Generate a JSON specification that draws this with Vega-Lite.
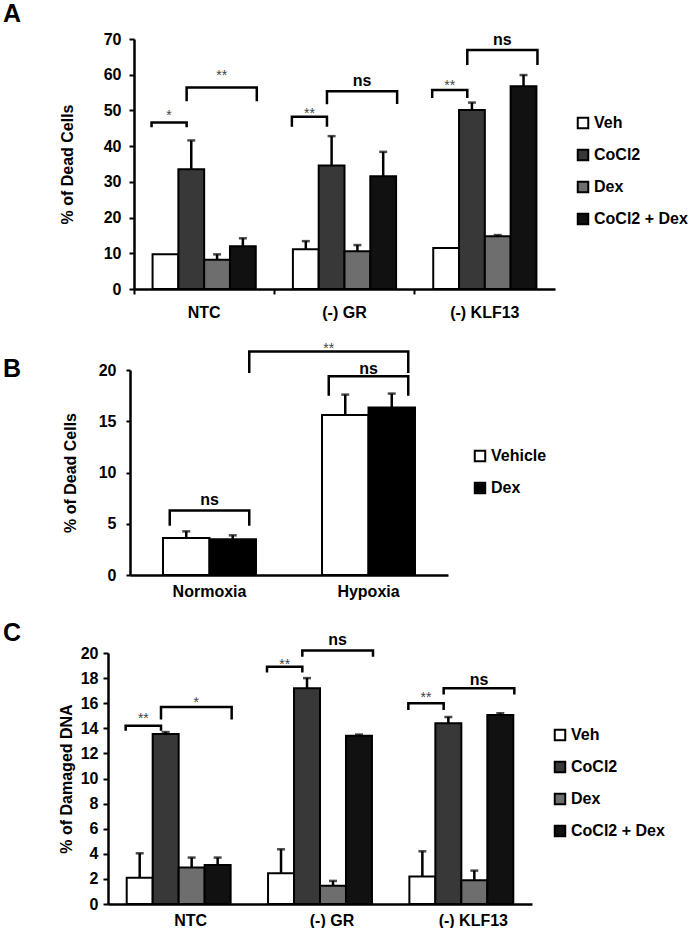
{
 "$schema": "https://vega.github.io/schema/vega-lite/v6.json",
 "background": "white",
 "padding": {"left": 3, "top": 2, "right": 0, "bottom": 0},
 "config": {
  "font": "Liberation Sans",
  "view": {"stroke": null},
  "axis": {"grid": false, "labelOverlap": false, "domainColor": "black", "domainWidth": 2.5, "tickColor": "black", "tickWidth": 2, "tickSize": 5, "labelColor": "black", "labelFont": "Liberation Sans", "labelFontSize": 16, "labelFontWeight": "bold", "titleColor": "black", "titleFont": "Liberation Sans", "titleFontSize": 16, "titleFontWeight": "bold", "labelPadding": 8},
  "legend": {"padding": 0, "labelFont": "Liberation Sans", "labelFontSize": 16, "labelFontWeight": "bold", "labelColor": "black", "symbolType": "square", "symbolSize": 110, "symbolStrokeColor": "black", "symbolStrokeWidth": 2, "rowPadding": 12, "labelOffset": 3},
  "title": {"font": "Liberation Sans", "fontSize": 25, "fontWeight": "bold", "color": "black", "anchor": "start", "frame": "group"}
 },
 "datasets": {
  "A_bars": [
   {"group": "NTC", "cond": "Veh", "value": 9.7, "hi": 9.7},
   {"group": "NTC", "cond": "CoCl2", "value": 33.5, "hi": 41.6},
   {"group": "NTC", "cond": "Dex", "value": 8.2, "hi": 9.7},
   {"group": "NTC", "cond": "CoCl2 + Dex", "value": 12.0, "hi": 14.2},
   {"group": "(-) GR", "cond": "Veh", "value": 11.1, "hi": 13.4},
   {"group": "(-) GR", "cond": "CoCl2", "value": 34.6, "hi": 42.8},
   {"group": "(-) GR", "cond": "Dex", "value": 10.6, "hi": 12.3},
   {"group": "(-) GR", "cond": "CoCl2 + Dex", "value": 31.6, "hi": 38.4},
   {"group": "(-) KLF13", "cond": "Veh", "value": 11.5, "hi": 11.5},
   {"group": "(-) KLF13", "cond": "CoCl2", "value": 50.1, "hi": 52.2},
   {"group": "(-) KLF13", "cond": "Dex", "value": 14.8, "hi": 15.1},
   {"group": "(-) KLF13", "cond": "CoCl2 + Dex", "value": 56.8, "hi": 59.9}
  ],
  "A_brk": [
   {"id": 1, "group": "NTC", "pos": "Veh", "value": 45.3, "ord": 1},
   {"id": 1, "group": "NTC", "pos": "Veh", "value": 46.6, "ord": 2},
   {"id": 1, "group": "NTC", "pos": "CoCl2", "value": 46.6, "ord": 3},
   {"id": 1, "group": "NTC", "pos": "CoCl2", "value": 45.3, "ord": 4},
   {"id": 2, "group": "NTC", "pos": "CoCl2", "value": 52.6, "ord": 1},
   {"id": 2, "group": "NTC", "pos": "CoCl2", "value": 56.4, "ord": 2},
   {"id": 2, "group": "NTC", "pos": "CoCl2 + Dex", "value": 56.4, "ord": 3},
   {"id": 2, "group": "NTC", "pos": "CoCl2 + Dex", "value": 52.6, "ord": 4},
   {"id": 3, "group": "(-) GR", "pos": "Veh", "value": 45.4, "ord": 1},
   {"id": 3, "group": "(-) GR", "pos": "Veh", "value": 48.2, "ord": 2},
   {"id": 3, "group": "(-) GR", "pos": "CoCl2", "value": 48.2, "ord": 3},
   {"id": 3, "group": "(-) GR", "pos": "CoCl2", "value": 45.4, "ord": 4},
   {"id": 4, "group": "(-) GR", "pos": "CoCl2", "value": 51.7, "ord": 1},
   {"id": 4, "group": "(-) GR", "pos": "CoCl2", "value": 55.4, "ord": 2},
   {"id": 4, "group": "(-) GR", "pos": "CoCl2 + Dex", "value": 55.4, "ord": 3},
   {"id": 4, "group": "(-) GR", "pos": "CoCl2 + Dex", "value": 51.8, "ord": 4},
   {"id": 5, "group": "(-) KLF13", "pos": "Veh", "value": 53.5, "ord": 1},
   {"id": 5, "group": "(-) KLF13", "pos": "Veh", "value": 55.7, "ord": 2},
   {"id": 5, "group": "(-) KLF13", "pos": "CoCl2", "value": 55.7, "ord": 3},
   {"id": 5, "group": "(-) KLF13", "pos": "CoCl2", "value": 53.5, "ord": 4},
   {"id": 6, "group": "(-) KLF13", "pos": "CoCl2", "value": 62.7, "ord": 1},
   {"id": 6, "group": "(-) KLF13", "pos": "CoCl2", "value": 66.9, "ord": 2},
   {"id": 6, "group": "(-) KLF13", "pos": "CoCl2 + Dex", "value": 66.9, "ord": 3},
   {"id": 6, "group": "(-) KLF13", "pos": "CoCl2 + Dex", "value": 62.7, "ord": 4}
  ],
  "A_lab": [
   {"group": "NTC", "pos": "Veh|CoCl2", "value": 49.3, "label": "*"},
   {"group": "NTC", "pos": "Dex", "value": 60.4, "label": "**"},
   {"group": "(-) GR", "pos": "Veh|CoCl2", "value": 49.8, "label": "**"},
   {"group": "(-) GR", "pos": "Dex", "value": 58.2, "label": "ns"},
   {"group": "(-) KLF13", "pos": "Veh|CoCl2", "value": 57.7, "label": "**"},
   {"group": "(-) KLF13", "pos": "Dex", "value": 69.7, "label": "ns"}
  ],
  "B_bars": [
   {"group": "Normoxia", "cond": "Vehicle", "value": 3.6, "hi": 4.26},
   {"group": "Normoxia", "cond": "Dex", "value": 3.5, "hi": 3.87},
   {"group": "Hypoxia", "cond": "Vehicle", "value": 15.6, "hi": 17.6},
   {"group": "Hypoxia", "cond": "Dex", "value": 16.35, "hi": 17.7}
  ],
  "B_brk": [
   {"id": 1, "group": "Normoxia", "pos": "Vehicle", "value": 4.8, "ord": 1},
   {"id": 1, "group": "Normoxia", "pos": "Vehicle", "value": 6.3, "ord": 2},
   {"id": 1, "group": "Normoxia", "pos": "Dex", "value": 6.3, "ord": 3},
   {"id": 1, "group": "Normoxia", "pos": "Dex", "value": 4.8, "ord": 4},
   {"id": 2, "group": "Hypoxia", "pos": "Vehicle", "value": 17.5, "ord": 1},
   {"id": 2, "group": "Hypoxia", "pos": "Vehicle", "value": 19.4, "ord": 2},
   {"id": 2, "group": "Hypoxia", "pos": "Dex", "value": 19.4, "ord": 3},
   {"id": 2, "group": "Hypoxia", "pos": "Dex", "value": 17.5, "ord": 4},
   {"id": 3, "group": "Normoxia", "pos": "Dex", "value": 19.7, "ord": 1},
   {"id": 3, "group": "Normoxia", "pos": "Dex", "value": 21.8, "ord": 2},
   {"id": 3, "group": "Hypoxia", "pos": "Dex", "value": 21.8, "ord": 3},
   {"id": 3, "group": "Hypoxia", "pos": "Dex", "value": 19.7, "ord": 4}
  ],
  "B_lab": [
   {"group": "Normoxia", "pos": "Vehicle|Dex", "value": 7.3, "label": "ns"},
   {"group": "Hypoxia", "pos": "Vehicle|Dex", "value": 20.05, "label": "ns"},
   {"group": "Hypoxia", "pos": "Vehicle", "value": 22.3, "label": "**"}
  ],
  "C_bars": [
   {"group": "NTC", "cond": "Veh", "value": 2.1, "hi": 4.04},
   {"group": "NTC", "cond": "CoCl2", "value": 13.55, "hi": 13.7},
   {"group": "NTC", "cond": "Dex", "value": 2.9, "hi": 3.7},
   {"group": "NTC", "cond": "CoCl2 + Dex", "value": 3.1, "hi": 3.7},
   {"group": "(-) GR", "cond": "Veh", "value": 2.45, "hi": 4.36},
   {"group": "(-) GR", "cond": "CoCl2", "value": 17.2, "hi": 18.0},
   {"group": "(-) GR", "cond": "Dex", "value": 1.46, "hi": 1.84},
   {"group": "(-) GR", "cond": "CoCl2 + Dex", "value": 13.4, "hi": 13.5},
   {"group": "(-) KLF13", "cond": "Veh", "value": 2.2, "hi": 4.2},
   {"group": "(-) KLF13", "cond": "CoCl2", "value": 14.4, "hi": 14.9},
   {"group": "(-) KLF13", "cond": "Dex", "value": 1.9, "hi": 2.66},
   {"group": "(-) KLF13", "cond": "CoCl2 + Dex", "value": 15.05, "hi": 15.2}
  ],
  "C_brk": [
   {"id": 1, "group": "NTC", "pos": "Veh", "value": 13.8, "ord": 1},
   {"id": 1, "group": "NTC", "pos": "Veh", "value": 14.2, "ord": 2},
   {"id": 1, "group": "NTC", "pos": "CoCl2", "value": 14.2, "ord": 3},
   {"id": 1, "group": "NTC", "pos": "CoCl2", "value": 13.8, "ord": 4},
   {"id": 2, "group": "NTC", "pos": "CoCl2", "value": 14.7, "ord": 1},
   {"id": 2, "group": "NTC", "pos": "CoCl2", "value": 15.7, "ord": 2},
   {"id": 2, "group": "NTC", "pos": "CoCl2 + Dex", "value": 15.7, "ord": 3},
   {"id": 2, "group": "NTC", "pos": "CoCl2 + Dex", "value": 14.7, "ord": 4},
   {"id": 3, "group": "(-) GR", "pos": "Veh", "value": 18.45, "ord": 1},
   {"id": 3, "group": "(-) GR", "pos": "Veh", "value": 18.9, "ord": 2},
   {"id": 3, "group": "(-) GR", "pos": "CoCl2", "value": 18.9, "ord": 3},
   {"id": 3, "group": "(-) GR", "pos": "CoCl2", "value": 18.45, "ord": 4},
   {"id": 4, "group": "(-) GR", "pos": "CoCl2", "value": 19.7, "ord": 1},
   {"id": 4, "group": "(-) GR", "pos": "CoCl2", "value": 20.2, "ord": 2},
   {"id": 4, "group": "(-) GR", "pos": "CoCl2 + Dex", "value": 20.2, "ord": 3},
   {"id": 4, "group": "(-) GR", "pos": "CoCl2 + Dex", "value": 19.7, "ord": 4},
   {"id": 5, "group": "(-) KLF13", "pos": "Veh", "value": 15.46, "ord": 1},
   {"id": 5, "group": "(-) KLF13", "pos": "Veh", "value": 16.0, "ord": 2},
   {"id": 5, "group": "(-) KLF13", "pos": "CoCl2", "value": 16.0, "ord": 3},
   {"id": 5, "group": "(-) KLF13", "pos": "CoCl2", "value": 15.46, "ord": 4},
   {"id": 6, "group": "(-) KLF13", "pos": "CoCl2", "value": 16.7, "ord": 1},
   {"id": 6, "group": "(-) KLF13", "pos": "CoCl2", "value": 17.2, "ord": 2},
   {"id": 6, "group": "(-) KLF13", "pos": "CoCl2 + Dex", "value": 17.2, "ord": 3},
   {"id": 6, "group": "(-) KLF13", "pos": "CoCl2 + Dex", "value": 16.7, "ord": 4}
  ],
  "C_lab": [
   {"group": "NTC", "pos": "Veh|CoCl2", "value": 15.0, "label": "**"},
   {"group": "NTC", "pos": "Dex", "value": 16.25, "label": "*"},
   {"group": "(-) GR", "pos": "Veh|CoCl2", "value": 19.3, "label": "**"},
   {"group": "(-) GR", "pos": "Dex", "value": 21.0, "label": "ns"},
   {"group": "(-) KLF13", "pos": "Veh|CoCl2", "value": 16.65, "label": "**"},
   {"group": "(-) KLF13", "pos": "Dex", "value": 17.85, "label": "ns"}
  ]
 },
 "columns": 1,
 "align": "none",
 "spacing": 22,
 "concat": [
  {
   "width": 447, "height": 250,
   "title": {"text": "A", "dx": -105},
   "encoding": {
    "x": {"field": "group", "type": "nominal", "sort": ["NTC", "(-) GR", "(-) KLF13"], "scale": {"paddingInner": 0, "paddingOuter": 0, "range": [26, 447]}, "axis": {"title": null, "labelAngle": 0, "bandPosition": 0, "tickSize": 5, "labelPadding": 10}}
   },
   "layer": [
    {"data": {"name": "A_bars"}, "mark": {"type": "bar", "stroke": "black", "strokeWidth": 2},
     "encoding": {
      "xOffset": {"field": "cond", "type": "nominal", "scale": {"domain": ["Veh", "CoCl2", "Dex", "CoCl2 + Dex"], "paddingInner": 0, "paddingOuter": 0.72}},
      "y": {"field": "value", "type": "quantitative", "scale": {"domain": [0, 70], "nice": false}, "axis": {"title": "% of Dead Cells", "values": [0, 10, 20, 30, 40, 50, 60, 70], "titlePadding": 28, "labelPadding": 8, "offset": -26}},
      "color": {"field": "cond", "type": "nominal", "scale": {"domain": ["Veh", "CoCl2", "Dex", "CoCl2 + Dex"], "range": ["#ffffff", "#383838", "#6e6e6e", "#111111"]}, "legend": {"title": null, "orient": "none", "legendX": 467, "legendY": 76}}
     }},
    {"data": {"name": "A_bars"}, "transform": [{"filter": "datum.hi > datum.value"}], "mark": {"type": "rule", "color": "black", "strokeWidth": 2.5},
     "encoding": {
      "xOffset": {"field": "cond", "type": "nominal", "scale": {"domain": ["Veh", "CoCl2", "Dex", "CoCl2 + Dex"], "paddingInner": 0, "paddingOuter": 0.72}},
      "y": {"field": "value", "type": "quantitative", "axis": {"title": "% of Dead Cells", "values": [0, 10, 20, 30, 40, 50, 60, 70], "titlePadding": 28, "labelPadding": 8, "offset": -26}},
      "y2": {"field": "hi"}
     }},
    {"data": {"name": "A_bars"}, "transform": [{"filter": "datum.hi > datum.value"}], "mark": {"type": "tick", "orient": "horizontal", "size": 8, "thickness": 2.5, "color": "black"},
     "encoding": {
      "xOffset": {"field": "cond", "type": "nominal", "scale": {"domain": ["Veh", "CoCl2", "Dex", "CoCl2 + Dex"], "paddingInner": 0, "paddingOuter": 0.72}},
      "y": {"field": "hi", "type": "quantitative", "axis": {"title": "% of Dead Cells", "values": [0, 10, 20, 30, 40, 50, 60, 70], "titlePadding": 28, "labelPadding": 8, "offset": -26}}
     }},
    {"data": {"name": "A_brk"}, "mark": {"type": "line", "color": "black", "strokeWidth": 2.5},
     "encoding": {
      "xOffset": {"field": "pos", "type": "nominal", "scale": {"domain": ["Veh", "Veh|CoCl2", "CoCl2", "CoCl2|Dex", "Dex", "Dex|CoCl2 + Dex", "CoCl2 + Dex"], "paddingInner": 0, "paddingOuter": 1.94}},
      "y": {"field": "value", "type": "quantitative", "axis": {"title": "% of Dead Cells", "values": [0, 10, 20, 30, 40, 50, 60, 70], "titlePadding": 28, "labelPadding": 8, "offset": -26}},
      "detail": {"field": "id", "type": "nominal"},
      "order": {"field": "ord", "type": "quantitative"}
     }},
    {"data": {"name": "A_lab"}, "transform": [{"filter": "datum.label == 'ns'"}], "mark": {"type": "text", "fontSize": 16, "fontWeight": "bold", "baseline": "middle", "color": "black"},
     "encoding": {
      "xOffset": {"field": "pos", "type": "nominal", "scale": {"domain": ["Veh", "Veh|CoCl2", "CoCl2", "CoCl2|Dex", "Dex", "Dex|CoCl2 + Dex", "CoCl2 + Dex"], "paddingInner": 0, "paddingOuter": 1.94}},
      "y": {"field": "value", "type": "quantitative", "axis": {"title": "% of Dead Cells", "values": [0, 10, 20, 30, 40, 50, 60, 70], "titlePadding": 28, "labelPadding": 8, "offset": -26}},
      "text": {"field": "label"}
     }},
    {"data": {"name": "A_lab"}, "transform": [{"filter": "datum.label != 'ns'"}], "mark": {"type": "text", "fontSize": 14, "baseline": "middle", "dy": 3, "color": "#444444"},
     "encoding": {
      "xOffset": {"field": "pos", "type": "nominal", "scale": {"domain": ["Veh", "Veh|CoCl2", "CoCl2", "CoCl2|Dex", "Dex", "Dex|CoCl2 + Dex", "CoCl2 + Dex"], "paddingInner": 0, "paddingOuter": 1.94}},
      "y": {"field": "value", "type": "quantitative", "axis": {"title": "% of Dead Cells", "values": [0, 10, 20, 30, 40, 50, 60, 70], "titlePadding": 28, "labelPadding": 8, "offset": -26}},
      "text": {"field": "label"}
     }}
   ],
   "resolve": {"scale": {"xOffset": "independent"}}
  },
  {
   "width": 340, "height": 205,
   "title": {"text": "B", "dx": -105, "offset": -40},
   "encoding": {
    "x": {"field": "group", "type": "nominal", "sort": ["Normoxia", "Hypoxia"], "scale": {"paddingInner": 0, "paddingOuter": 0, "range": [22, 340]}, "axis": {"title": null, "labelAngle": 0, "ticks": false, "labelPadding": 8}}
   },
   "layer": [
    {"data": {"name": "B_bars"}, "mark": {"type": "bar", "stroke": "black", "strokeWidth": 2},
     "encoding": {
      "xOffset": {"field": "cond", "type": "nominal", "scale": {"domain": ["Vehicle", "Dex"], "paddingInner": 0, "paddingOuter": 0.71}},
      "y": {"field": "value", "type": "quantitative", "scale": {"domain": [0, 20], "nice": false}, "axis": {"title": "% of Dead Cells", "values": [0, 5, 10, 15, 20], "titlePadding": 20, "labelPadding": 10, "tickSize": 4, "offset": -22}},
      "color": {"field": "cond", "type": "nominal", "scale": {"domain": ["Vehicle", "Dex"], "range": ["#ffffff", "#000000"]}, "legend": {"title": null, "orient": "none", "legendX": 364, "legendY": 78}}
     }},
    {"data": {"name": "B_bars"}, "mark": {"type": "rule", "color": "black", "strokeWidth": 2.5},
     "encoding": {
      "xOffset": {"field": "cond", "type": "nominal", "scale": {"domain": ["Vehicle", "Dex"], "paddingInner": 0, "paddingOuter": 0.71}},
      "y": {"field": "value", "type": "quantitative", "axis": {"title": "% of Dead Cells", "values": [0, 5, 10, 15, 20], "titlePadding": 20, "labelPadding": 10, "tickSize": 4, "offset": -22}},
      "y2": {"field": "hi"}
     }},
    {"data": {"name": "B_bars"}, "mark": {"type": "tick", "orient": "horizontal", "size": 8, "thickness": 2.5, "color": "black"},
     "encoding": {
      "xOffset": {"field": "cond", "type": "nominal", "scale": {"domain": ["Vehicle", "Dex"], "paddingInner": 0, "paddingOuter": 0.71}},
      "y": {"field": "hi", "type": "quantitative", "axis": {"title": "% of Dead Cells", "values": [0, 5, 10, 15, 20], "titlePadding": 20, "labelPadding": 10, "tickSize": 4, "offset": -22}}
     }},
    {"data": {"name": "B_brk"}, "mark": {"type": "line", "color": "black", "strokeWidth": 2.5},
     "encoding": {
      "xOffset": {"field": "pos", "type": "nominal", "scale": {"domain": ["Vehicle", "Vehicle|Dex", "Dex"], "paddingInner": 0, "paddingOuter": 1.92}},
      "y": {"field": "value", "type": "quantitative", "axis": {"title": "% of Dead Cells", "values": [0, 5, 10, 15, 20], "titlePadding": 20, "labelPadding": 10, "tickSize": 4, "offset": -22}},
      "detail": {"field": "id", "type": "nominal"},
      "order": {"field": "ord", "type": "quantitative"}
     }},
    {"data": {"name": "B_lab"}, "transform": [{"filter": "datum.label == 'ns'"}], "mark": {"type": "text", "fontSize": 16, "fontWeight": "bold", "baseline": "middle", "color": "black"},
     "encoding": {
      "xOffset": {"field": "pos", "type": "nominal", "scale": {"domain": ["Vehicle", "Vehicle|Dex", "Dex"], "paddingInner": 0, "paddingOuter": 1.92}},
      "y": {"field": "value", "type": "quantitative", "axis": {"title": "% of Dead Cells", "values": [0, 5, 10, 15, 20], "titlePadding": 20, "labelPadding": 10, "tickSize": 4, "offset": -22}},
      "text": {"field": "label"}
     }},
    {"data": {"name": "B_lab"}, "transform": [{"filter": "datum.label != 'ns'"}], "mark": {"type": "text", "fontSize": 14, "baseline": "middle", "dy": 3, "color": "#444444"},
     "encoding": {
      "xOffset": {"field": "pos", "type": "nominal", "scale": {"domain": ["Vehicle", "Vehicle|Dex", "Dex"], "paddingInner": 0, "paddingOuter": 1.92}},
      "y": {"field": "value", "type": "quantitative", "axis": {"title": "% of Dead Cells", "values": [0, 5, 10, 15, 20], "titlePadding": 20, "labelPadding": 10, "tickSize": 4, "offset": -22}},
      "text": {"field": "label"}
     }}
   ],
   "resolve": {"scale": {"xOffset": "independent"}}
  },
  {
   "width": 424, "height": 251,
   "title": {"text": "C", "dx": -105, "offset": -14},
   "encoding": {
    "x": {"field": "group", "type": "nominal", "sort": ["NTC", "(-) GR", "(-) KLF13"], "scale": {"paddingInner": 0, "paddingOuter": 0}, "axis": {"title": null, "labelAngle": 0, "ticks": false, "labelPadding": 8, "labelOffset": 12}}
   },
   "layer": [
    {"data": {"name": "C_bars"}, "mark": {"type": "bar", "stroke": "black", "strokeWidth": 2},
     "encoding": {
      "xOffset": {"field": "cond", "type": "nominal", "scale": {"domain": ["Veh", "CoCl2", "Dex", "CoCl2 + Dex"], "paddingInner": 0, "paddingOuter": 0.72}},
      "y": {"field": "value", "type": "quantitative", "scale": {"domain": [0, 20], "nice": false}, "axis": {"title": "% of Damaged DNA", "values": [0, 2, 4, 6, 8, 10, 12, 14, 16, 18, 20], "titlePadding": 6, "labelPadding": 5}},
      "color": {"field": "cond", "type": "nominal", "scale": {"domain": ["Veh", "CoCl2", "Dex", "CoCl2 + Dex"], "range": ["#ffffff", "#383838", "#6e6e6e", "#111111"]}, "legend": {"title": null, "orient": "none", "legendX": 444, "legendY": 74}}
     }},
    {"data": {"name": "C_bars"}, "transform": [{"filter": "datum.hi > datum.value"}], "mark": {"type": "rule", "color": "black", "strokeWidth": 2.5},
     "encoding": {
      "xOffset": {"field": "cond", "type": "nominal", "scale": {"domain": ["Veh", "CoCl2", "Dex", "CoCl2 + Dex"], "paddingInner": 0, "paddingOuter": 0.72}},
      "y": {"field": "value", "type": "quantitative", "axis": {"title": "% of Damaged DNA", "values": [0, 2, 4, 6, 8, 10, 12, 14, 16, 18, 20], "titlePadding": 6, "labelPadding": 5}},
      "y2": {"field": "hi"}
     }},
    {"data": {"name": "C_bars"}, "transform": [{"filter": "datum.hi > datum.value"}], "mark": {"type": "tick", "orient": "horizontal", "size": 8, "thickness": 2.5, "color": "black"},
     "encoding": {
      "xOffset": {"field": "cond", "type": "nominal", "scale": {"domain": ["Veh", "CoCl2", "Dex", "CoCl2 + Dex"], "paddingInner": 0, "paddingOuter": 0.72}},
      "y": {"field": "hi", "type": "quantitative", "axis": {"title": "% of Damaged DNA", "values": [0, 2, 4, 6, 8, 10, 12, 14, 16, 18, 20], "titlePadding": 6, "labelPadding": 5}}
     }},
    {"data": {"name": "C_brk"}, "mark": {"type": "line", "color": "black", "strokeWidth": 2.5},
     "encoding": {
      "xOffset": {"field": "pos", "type": "nominal", "scale": {"domain": ["Veh", "Veh|CoCl2", "CoCl2", "CoCl2|Dex", "Dex", "Dex|CoCl2 + Dex", "CoCl2 + Dex"], "paddingInner": 0, "paddingOuter": 1.94}},
      "y": {"field": "value", "type": "quantitative", "axis": {"title": "% of Damaged DNA", "values": [0, 2, 4, 6, 8, 10, 12, 14, 16, 18, 20], "titlePadding": 6, "labelPadding": 5}},
      "detail": {"field": "id", "type": "nominal"},
      "order": {"field": "ord", "type": "quantitative"}
     }},
    {"data": {"name": "C_lab"}, "transform": [{"filter": "datum.label == 'ns'"}], "mark": {"type": "text", "fontSize": 16, "fontWeight": "bold", "baseline": "middle", "color": "black"},
     "encoding": {
      "xOffset": {"field": "pos", "type": "nominal", "scale": {"domain": ["Veh", "Veh|CoCl2", "CoCl2", "CoCl2|Dex", "Dex", "Dex|CoCl2 + Dex", "CoCl2 + Dex"], "paddingInner": 0, "paddingOuter": 1.94}},
      "y": {"field": "value", "type": "quantitative", "axis": {"title": "% of Damaged DNA", "values": [0, 2, 4, 6, 8, 10, 12, 14, 16, 18, 20], "titlePadding": 6, "labelPadding": 5}},
      "text": {"field": "label"}
     }},
    {"data": {"name": "C_lab"}, "transform": [{"filter": "datum.label != 'ns'"}], "mark": {"type": "text", "fontSize": 14, "baseline": "middle", "dy": 3, "color": "#444444"},
     "encoding": {
      "xOffset": {"field": "pos", "type": "nominal", "scale": {"domain": ["Veh", "Veh|CoCl2", "CoCl2", "CoCl2|Dex", "Dex", "Dex|CoCl2 + Dex", "CoCl2 + Dex"], "paddingInner": 0, "paddingOuter": 1.94}},
      "y": {"field": "value", "type": "quantitative", "axis": {"title": "% of Damaged DNA", "values": [0, 2, 4, 6, 8, 10, 12, 14, 16, 18, 20], "titlePadding": 6, "labelPadding": 5}},
      "text": {"field": "label"}
     }}
   ],
   "resolve": {"scale": {"xOffset": "independent"}}
  }
 ],
 "resolve": {"scale": {"color": "independent"}, "legend": {"color": "independent"}}
}
